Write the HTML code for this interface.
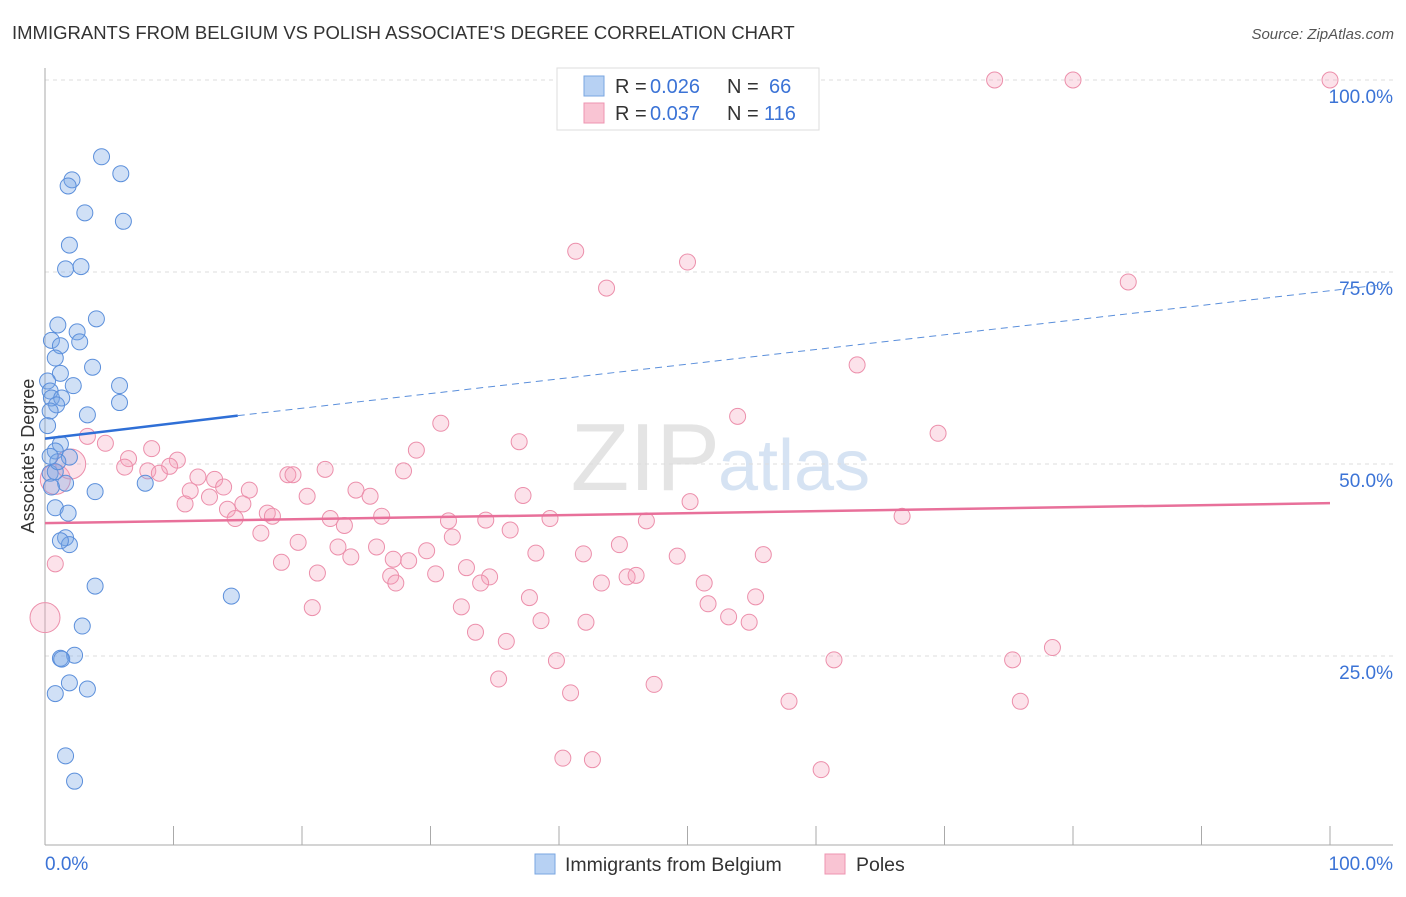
<!DOCTYPE html>
<html><head><meta charset="utf-8"><style>
body{margin:0;background:#fff;font-family:"Liberation Sans",sans-serif}
svg text{font-family:"Liberation Sans",sans-serif}
</style></head><body>
<svg id="chart" width="1406" height="892" xmlns="http://www.w3.org/2000/svg">
<text x="12" y="39" font-size="18.5" fill="#333">IMMIGRANTS FROM BELGIUM VS POLISH ASSOCIATE'S DEGREE CORRELATION CHART</text>
<text x="1394" y="39" font-size="15" fill="#555" text-anchor="end" font-style="italic">Source: ZipAtlas.com</text>
<text x="720" y="490" font-size="96" fill="#e4e4e4" text-anchor="end" font-family="Liberation Serif">ZIP</text>
<text x="718" y="490" font-size="72" fill="#d6e3f3">atlas</text>
<g id="grid"></g><g id="axes"></g><g id="pts"></g><g id="trend"></g>
<g>
<rect x="557" y="68" width="262" height="62" fill="#fff" stroke="#ddd"/>
<rect x="584" y="76" width="20" height="20" fill="#b7d1f3" stroke="#7aa6e0"/>
<rect x="584" y="103" width="20" height="20" fill="#f9c4d3" stroke="#ee94b0"/>
<text x="615" y="93" font-size="20" fill="#333">R =</text>
<text x="650" y="93" font-size="20" fill="#3b73d6">0.026</text>
<text x="727" y="93" font-size="20" fill="#333">N =</text>
<text x="769" y="93" font-size="20" fill="#3b73d6">66</text>
<text x="615" y="120" font-size="20" fill="#333">R =</text>
<text x="650" y="120" font-size="20" fill="#3b73d6">0.037</text>
<text x="727" y="120" font-size="20" fill="#333">N =</text>
<text x="764" y="120" font-size="20" fill="#3b73d6">116</text>
</g>
<g>
<rect x="535" y="854" width="20" height="20" fill="#b7d1f3" stroke="#7aa6e0"/>
<text x="565" y="871" font-size="19.5" fill="#333">Immigrants from Belgium</text>
<rect x="825" y="854" width="20" height="20" fill="#f9c4d3" stroke="#ee94b0"/>
<text x="856" y="871" font-size="19.5" fill="#333">Poles</text>
</g>
<text transform="translate(34,456) rotate(-90)" font-size="18" fill="#333" text-anchor="middle">Associate's Degree</text>
</svg>
<script>
const yTicks=[25,50,75,100];
const yTickLabels=["25.0%","50.0%","75.0%","100.0%"];
const blueX=[4.4,5.9,2.1,1.8,3.1,6.1,1.9,1.6,2.8,4,1,2.5,2.7,0.5,1.2,0.8,3.7,1.2,0.2,2.2,5.8,0.4,0.5,1.3,0.9,5.8,3.3,0.4,0.2,1.2,0.8,1.9,0.4,1.6,3.9,7.8,0.8,1.8,1.6,1.9,1.2,3.9,14.5,2.9,2.3,1.2,1.3,1.9,3.3,0.8,1.6,2.3,0.8,0.5,1,0.4];
const blueY=[90,87.8,87,86.2,82.7,81.6,78.5,75.4,75.7,68.9,68.1,67.2,65.9,66.1,65.4,63.8,62.6,61.8,60.8,60.2,60.2,59.5,58.6,58.6,57.7,58,56.4,56.9,55,52.6,51.7,50.9,48.8,47.5,46.4,47.5,44.3,43.6,40.4,39.5,40,34.1,32.8,28.9,25.1,24.7,24.6,21.5,20.7,20.1,12,8.7,49,47,50.3,51];
const pinkX=[73.9,80,100,41.3,50,43.7,84.3,63.2,30.8,53.9,69.5,36.9,28.9,8.3,3.3,4.7,6.5,10.3,9.7,6.2,8,8.9,11.9,13.2,27.9,21.8,18.9,19.3,24.2,25.3,20.4,15.9,13.9,11.3,12.8,10.9,15.4,14.2,14.8,17.3,17.7,37.2,50.2,22.2,23.3,26.2,31.4,34.3,36.2,39.3,46.8,66.7,16.8,19.7,22.8,25.8,23.8,29.7,31.7,38.2,41.9,44.7,28.3,27.1,18.4,21.2,32.8,49.2,55.9,26.9,27.3,30.4,34.6,33.9,43.3,45.3,46,51.3,37.7,20.8,32.4,51.6,55.3,53.2,38.6,42.1,54.8,33.5,35.9,39.8,61.4,75.3,78.4,35.3,47.4,40.9,57.9,75.9,40.3,42.6,60.4,0.8,0,0.8,2];
const pinkY=[100,100,100,77.7,76.3,72.9,73.7,62.9,55.3,56.2,54,52.9,51.8,52,53.6,52.7,50.7,50.5,49.7,49.6,49.1,48.8,48.3,48,49.1,49.3,48.6,48.6,46.6,45.8,45.8,46.6,47,46.5,45.7,44.8,44.8,44.1,42.9,43.6,43.2,45.9,45.1,42.9,42,43.2,42.6,42.7,41.4,42.9,42.6,43.2,41,39.8,39.2,39.2,37.9,38.7,40.5,38.4,38.3,39.5,37.4,37.6,37.2,35.8,36.5,38,38.2,35.4,34.5,35.7,35.3,34.5,34.5,35.3,35.5,34.5,32.6,31.3,31.4,31.8,32.7,30.1,29.6,29.4,29.4,28.1,26.9,24.4,24.5,24.5,26.1,22,21.3,20.2,19.1,19.1,11.7,11.5,10.2,37,30,48,50];
const bigPink=[102,103,104,105];
const X=v=>45+v*12.85, Y=v=>848-v*7.68;
const ns="http://www.w3.org/2000/svg";
function mk(tag,attrs,parent,text){const e=document.createElementNS(ns,tag);for(const k in attrs)e.setAttribute(k,attrs[k]);if(text!==undefined)e.textContent=text;document.getElementById(parent).appendChild(e);return e;}
yTicks.forEach((t,i)=>{
 const g=mk('line',{x1:45,x2:1393,y1:Y(t),y2:Y(t),stroke:'#ddd','stroke-dasharray':'4,4'},'grid');
 
 
 const l=mk('text',{x:1393,y:Y(t)+23,'font-size':19,fill:'#3b73d6','text-anchor':'end'},'grid',yTickLabels[i]);
 
 
});
const xa=mk('line',{x1:45,x2:1393,y1:845,y2:845,stroke:'#aaa'},'axes');


const ya=mk('line',{x1:45,x2:45,y1:68,y2:845,stroke:'#aaa'},'axes');


for(let i=0;i<=10;i++){const t=mk('line',{x1:X(i*10),x2:X(i*10),y1:826,y2:845,stroke:'#aaa'},'axes');
 
 }
const x0=mk('text',{x:45,y:870,'font-size':19,fill:'#3b73d6'},'axes','0.0%');


const x1=mk('text',{x:1393,y:870,'font-size':19,fill:'#3b73d6','text-anchor':'end'},'axes','100.0%');


pinkX.forEach((v,i)=>{const big=bigPink.includes(i);
 const c=mk('circle',{cx:X(v),cy:Y(pinkY[i]),r:big?15:8,fill:'rgba(245,160,185,0.3)',stroke:'#ec8fab','stroke-width':1},'pts');
 
 });
blueX.forEach((v,i)=>{
 const c=mk('circle',{cx:X(v),cy:Y(blueY[i]),r:8,fill:'rgba(120,165,230,0.35)',stroke:'#5b8fdb','stroke-width':1},'pts');
 
 });
const b1=mk('line',{x1:X(0),y1:Y(53.3),x2:X(15),y2:Y(56.3),stroke:'#2f6fd6','stroke-width':2.5},'trend');


const b2=mk('line',{x1:X(15),y1:Y(56.3),x2:1393,y2:Y(73.5),stroke:'#5b8fdb','stroke-width':1,'stroke-dasharray':'7,5'},'trend');


const p1=mk('line',{x1:X(0),y1:Y(42.3),x2:X(100),y2:Y(44.9),stroke:'#e8709a','stroke-width':2.5},'trend');


</script>
</body></html>
